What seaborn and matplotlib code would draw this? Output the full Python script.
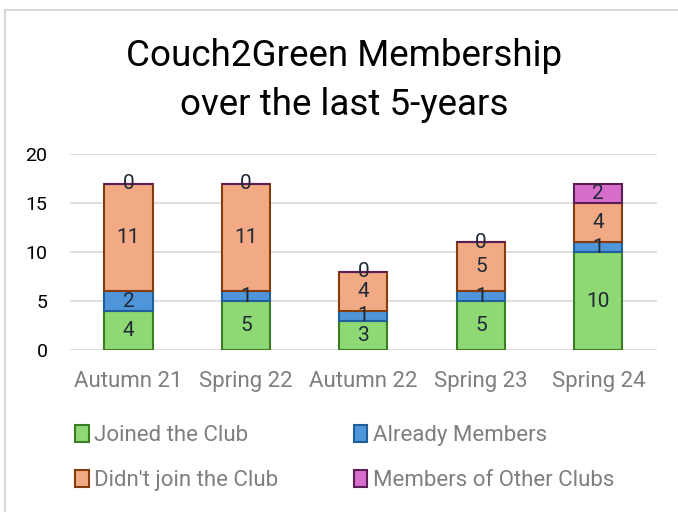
import numpy as np
import pandas as pd
import matplotlib
matplotlib.use("Agg")
import matplotlib.pyplot as plt
import seaborn as sns
from matplotlib.patches import Rectangle

# Data
seasons = ['Autumn 21', 'Spring 22', 'Autumn 22', 'Spring 23', 'Spring 24']
joined = [4, 5, 3, 5, 10]
already = [2, 1, 1, 1, 1]
didnt_join = [11, 11, 4, 5, 4]
other_clubs = [0, 0, 0, 0, 2]

series_names = ['Joined the Club', 'Already Members', "Didn't join the Club", 'Members of Other Clubs']
series_values = [joined, already, didnt_join, other_clubs]
fill_colors = ['#8ED973', '#4E95D9', '#F2AA84', '#D86ECC']
edge_colors = ['#3B7D23', '#215F9A', '#843C0C', '#5A1E55']

sns.set_style("white")
plt.rcParams['font.family'] = ['Roboto', 'DejaVu Sans']

fig = plt.figure(figsize=(6.78, 5.12), dpi=100)
ax = fig.add_axes([0.103, 0.316, 0.866, 0.383])

# chart frame
fig.patches.append(Rectangle((5 / 678, -0.01), 1.0, 1 - 10 / 512 + 0.01, transform=fig.transFigure,
                             fill=False, edgecolor='#d9d9d9', linewidth=1.5))

bottom = np.zeros(len(seasons))
for name, vals, fc, ec in zip(series_names, series_values, fill_colors, edge_colors):
    sns.barplot(x=seasons, y=vals, bottom=bottom, color=fc, edgecolor=ec, linewidth=1.5,
                width=0.41, saturation=1, label=name, ax=ax, zorder=3)
    bottom = bottom + np.array(vals)

for cont in ax.containers:
    ax.bar_label(cont, labels=[str(int(round(b.get_height()))) for b in cont], label_type='center',
                 fontsize=15, color='#1f2a36')

ax.set_ylim(0, 20)
ax.set_xlim(-0.5, 4.5)
ax.set_yticks([0, 5, 10, 15, 20])
ax.yaxis.grid(True, color='#d9d9d9', linewidth=1.2, zorder=0)
ax.set_axisbelow(True)
for s in ax.spines.values():
    s.set_visible(False)
ax.tick_params(axis='y', length=0, labelsize=14, labelcolor='black', pad=16)
ax.tick_params(axis='x', length=0, labelsize=16, labelcolor='#7f7f7f', pad=15)

fig.text(0.508, 0.843, 'Couch2Green Membership\nover the last 5-years', ha='center', va='center',
         fontsize=26.5, color='black', linespacing=1.45)

handles, labels = ax.get_legend_handles_labels()
ax.get_legend().remove()
order = [0, 2, 1, 3]
leg = fig.legend([handles[i] for i in order], [labels[i] for i in order], loc='upper left',
                 bbox_to_anchor=(0.098, 0.188), ncol=2, frameon=False, fontsize=16,
                 labelcolor='#7f7f7f', handlelength=0.6, handleheight=0.8, handletextpad=0.25,
                 columnspacing=3.4, labelspacing=1.08, borderaxespad=0)

fig.savefig('out.png', dpi=100)
